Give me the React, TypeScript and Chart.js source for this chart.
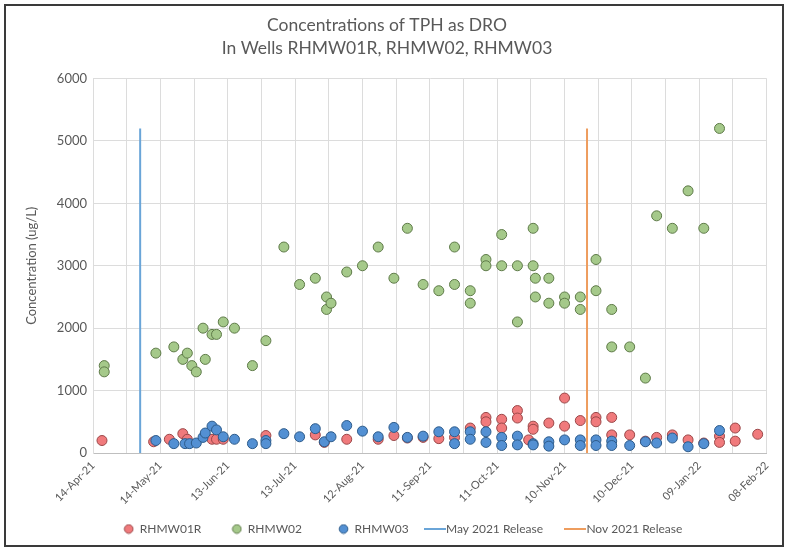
import React, { useEffect, useRef } from "react";
import { Chart, registerables } from "chart.js";

Chart.register(...registerables);

// ---- Data (dates, values) ----
const startDate = "2021-04-14";
const endDate = "2022-02-08";

const rhmw01rDates = [
  "2021-04-18", "2021-05-11", "2021-05-18", "2021-05-24", "2021-05-26", "2021-06-06", "2021-06-08",
  "2021-06-11", "2021-06-30", "2021-07-22", "2021-07-26", "2021-08-05", "2021-08-19", "2021-08-26",
  "2021-09-01", "2021-09-08", "2021-09-15", "2021-09-22", "2021-09-29", "2021-10-06", "2021-10-06",
  "2021-10-13", "2021-10-13", "2021-10-20", "2021-10-20", "2021-10-25", "2021-10-27", "2021-10-27",
  "2021-11-03", "2021-11-10", "2021-11-10", "2021-11-17", "2021-11-24", "2021-11-24", "2021-12-01",
  "2021-12-01", "2021-12-09", "2021-12-16", "2021-12-21", "2021-12-28", "2022-01-04", "2022-01-11",
  "2022-01-18", "2022-01-18", "2022-01-25", "2022-01-25", "2022-02-04",
];
const rhmw01rValues = [
  200, 180, 220, 310, 220, 220, 220,
  220, 280, 290, 170, 220, 220, 280,
  240, 250, 230, 250, 400, 570, 500,
  540, 400, 680, 560, 210, 430, 380,
  480, 880, 430, 520, 570, 500, 570,
  290, 290, 190, 250, 290, 210, 160,
  270, 170, 400, 190, 300,
];

const rhmw02Dates = [
  "2021-04-19", "2021-04-19", "2021-05-12", "2021-05-20", "2021-05-24", "2021-05-26", "2021-05-28",
  "2021-05-30", "2021-06-02", "2021-06-03", "2021-06-06", "2021-06-08", "2021-06-11", "2021-06-16",
  "2021-06-24", "2021-06-30", "2021-07-08", "2021-07-15", "2021-07-22", "2021-07-27", "2021-07-27",
  "2021-07-29", "2021-08-05", "2021-08-12", "2021-08-19", "2021-08-26", "2021-09-01", "2021-09-08",
  "2021-09-15", "2021-09-22", "2021-09-22", "2021-09-29", "2021-09-29", "2021-10-06", "2021-10-06",
  "2021-10-13", "2021-10-13", "2021-10-20", "2021-10-20", "2021-10-27", "2021-10-27", "2021-10-28",
  "2021-10-28", "2021-11-03", "2021-11-03", "2021-11-10", "2021-11-10", "2021-11-17", "2021-11-17",
  "2021-11-24", "2021-11-24", "2021-12-01", "2021-12-01", "2021-12-09", "2021-12-16", "2021-12-21",
  "2021-12-28", "2022-01-04", "2022-01-11", "2022-01-18",
];
const rhmw02Values = [
  1400, 1300, 1600, 1700, 1500, 1600, 1400,
  1300, 2000, 1500, 1900, 1900, 2100, 2000,
  1400, 1800, 3300, 2700, 2800, 2500, 2300,
  2400, 2900, 3000, 3300, 2800, 3600, 2700,
  2600, 3300, 2700, 2600, 2400, 3100, 3000,
  3500, 3000, 3000, 2100, 3600, 3000, 2800,
  2500, 2800, 2400, 2500, 2400, 2500, 2300,
  3100, 2600, 2300, 1700, 1700, 1200, 3800,
  3600, 4200, 3600, 5200,
];

const rhmw03Dates = [
  "2021-05-12", "2021-05-20", "2021-05-25", "2021-05-27", "2021-05-30", "2021-06-02", "2021-06-03",
  "2021-06-06", "2021-06-08", "2021-06-11", "2021-06-16", "2021-06-24", "2021-06-30", "2021-06-30",
  "2021-07-08", "2021-07-15", "2021-07-22", "2021-07-26", "2021-07-29", "2021-08-05", "2021-08-12",
  "2021-08-19", "2021-08-26", "2021-09-01", "2021-09-08", "2021-09-15", "2021-09-22", "2021-09-22",
  "2021-09-29", "2021-09-29", "2021-10-06", "2021-10-06", "2021-10-13", "2021-10-13", "2021-10-20",
  "2021-10-20", "2021-10-27", "2021-10-27", "2021-11-03", "2021-11-03", "2021-11-10", "2021-11-17",
  "2021-11-17", "2021-11-24", "2021-11-24", "2021-12-01", "2021-12-01", "2021-12-09", "2021-12-16",
  "2021-12-21", "2021-12-28", "2022-01-04", "2022-01-11", "2022-01-18",
];
const rhmw03Values = [
  200, 150, 150, 150, 160, 250, 320,
  430, 370, 260, 220, 150, 200, 150,
  310, 260, 390, 180, 260, 440, 350,
  260, 410, 250, 270, 340, 340, 150,
  340, 220, 340, 170, 250, 120, 270,
  130, 150, 130, 180, 110, 210, 210,
  120, 210, 120, 190, 120, 120, 180,
  160, 240, 100, 150, 360,
];

const releaseNames = ["May 2021 Release", "Nov 2021 Release"];
const releaseDates = ["2021-05-05", "2021-11-20"];
const releaseLineTop = 5200;

const yTicksMin = 0;
const yTicksMax = 6000;
const yTickStep = 1000;
const xGridStepDays = 15;
const xLabelStepDays = 30;

const titleLines = ["Concentrations of TPH as DRO", "In Wells RHMW01R, RHMW02, RHMW03"];
const yAxisTitle = "Concentration (ug/L)";
const monthNames = ["Jan", "Feb", "Mar", "Apr", "May", "Jun", "Jul", "Aug", "Sep", "Oct", "Nov", "Dec"];

// ---- helpers ----
const DAY = 86400000;
const epoch = Date.parse(startDate + "T00:00:00Z");
const toDay = (s: string) => Math.round((Date.parse(s + "T00:00:00Z") - epoch) / DAY);
const fmt = (d: number) => {
  const dt = new Date(epoch + d * DAY);
  return (
    String(dt.getUTCDate()).padStart(2, "0") +
    "-" +
    monthNames[dt.getUTCMonth()] +
    "-" +
    String(dt.getUTCFullYear()).slice(2)
  );
};
const pts = (dates: string[], vals: number[]) => dates.map((d, i) => ({ x: toDay(d), y: vals[i] }));

const FONT = "Lato, 'Open Sans', sans-serif";
const GRAY = "#595959";

const makeCircle = (fill: string, stroke: string) => {
  const c = document.createElement("canvas");
  c.width = 11;
  c.height = 11;
  const g = c.getContext("2d")!;
  g.beginPath();
  g.arc(5.5, 5.5, 4.3, 0, Math.PI * 2);
  g.fillStyle = fill;
  g.fill();
  g.lineWidth = 1;
  g.strokeStyle = stroke;
  g.stroke();
  return c;
};
const makeLine = (color: string) => {
  const c = document.createElement("canvas");
  c.width = 22;
  c.height = 2;
  const g = c.getContext("2d")!;
  g.fillStyle = color;
  g.fillRect(0, 0, 22, 2);
  return c;
};

// shifts the legend horizontally after layout
const legendShift = {
  id: "legendShift",
  afterLayout(chart: any) {
    const lg = chart.legend;
    if (lg) {
      lg.left += 16;
      lg.right += 16;
    }
  },
};

export default function App() {
  const ref = useRef<HTMLCanvasElement | null>(null);

  useEffect(() => {
    if (!ref.current) return;
    const pointBase = { pointRadius: 5, pointHoverRadius: 5, pointBorderWidth: 1, showLine: false };
    const series = [
      { label: "RHMW01R", fill: "#F07A7C", stroke: "#9A4748", dates: rhmw01rDates, vals: rhmw01rValues },
      { label: "RHMW02", fill: "#A5C98A", stroke: "#5E7A48", dates: rhmw02Dates, vals: rhmw02Values },
      { label: "RHMW03", fill: "#5390D3", stroke: "#2D5B8A", dates: rhmw03Dates, vals: rhmw03Values },
    ];
    const lineColors = ["#6AA5D8", "#EE9D5E"];
    const legendIcons = [
      ...series.map((s) => makeCircle(s.fill, s.stroke)),
      ...lineColors.map((c) => makeLine(c)),
    ];
    const legendSuffix = ["      ", "        ", "   ", "     ", ""];

    const chart = new Chart(ref.current, {
      type: "scatter",
      plugins: [legendShift],
      data: {
        datasets: [
          ...series.map((s, i) => ({
            ...pointBase,
            label: s.label,
            data: pts(s.dates, s.vals),
            backgroundColor: s.fill,
            borderColor: s.stroke,
            order: 2 - i,
          })),
          ...releaseDates.map((d, i) => ({
            label: releaseNames[i],
            data: [
              { x: toDay(d), y: 0 },
              { x: toDay(d), y: releaseLineTop },
            ],
            showLine: true,
            borderColor: lineColors[i],
            backgroundColor: lineColors[i],
            borderWidth: 2,
            pointRadius: 0,
            pointHoverRadius: 0,
            order: 5 + i,
          })),
        ],
      },
      options: {
        animation: false,
        responsive: false,
        maintainAspectRatio: false,
        layout: { padding: { left: 0, right: 14, top: 0, bottom: 0 } },
        plugins: {
          title: {
            display: true,
            text: titleLines,
            color: GRAY,
            font: { family: FONT, size: 17.5, weight: "normal", lineHeight: 1.3 },
            padding: { top: 8, bottom: 19 },
          },
          legend: {
            position: "bottom",
            labels: {
              usePointStyle: true,
              boxWidth: 10,
              boxHeight: 10,
              padding: 12,
              color: GRAY,
              font: { family: FONT, size: 12 },
              generateLabels: (ch: any) => {
                const items = (Chart.defaults.plugins.legend.labels as any).generateLabels(ch);
                return items
                  .sort((a: any, b: any) => a.datasetIndex - b.datasetIndex)
                  .map((it: any) => ({
                    ...it,
                    text: it.text + legendSuffix[it.datasetIndex],
                    pointStyle: legendIcons[it.datasetIndex],
                  }));
              },
            },
          },
          tooltip: { enabled: false },
        },
        scales: {
          x: {
            type: "linear",
            min: toDay(startDate),
            max: toDay(endDate),
            grid: { color: "#DCDCDC", drawTicks: false },
            border: { color: "#BFBFBF" },
            ticks: {
              stepSize: xGridStepDays,
              autoSkip: false,
              maxRotation: 45,
              minRotation: 45,
              padding: 6,
              color: GRAY,
              font: { family: FONT, size: 11 },
              callback: (v: any) => (Number(v) % xLabelStepDays === 0 ? fmt(Number(v)) : ""),
            },
            afterFit: (s: any) => {
              s.height = 58;
            },
          },
          y: {
            min: yTicksMin,
            max: yTicksMax,
            grid: { color: "#DCDCDC", drawTicks: false },
            border: { color: "#DCDCDC" },
            ticks: {
              stepSize: yTickStep,
              padding: 6,
              color: GRAY,
              font: { family: FONT, size: 13 },
              callback: (v: any) => String(v),
            },
            title: {
              display: true,
              text: yAxisTitle,
              color: GRAY,
              font: { family: FONT, size: 13 },
              padding: { top: 18, bottom: 0 },
            },
            afterFit: (s: any) => {
              s.width = 87;
            },
          },
        },
      },
    } as any);
    return () => chart.destroy();
  }, []);

  return (
    <div
      style={{
        position: "fixed",
        left: 4,
        top: 4,
        width: 780,
        height: 543,
        border: "2px solid #3a3a3a",
        boxSizing: "border-box",
        background: "#fff",
      }}
    >
      <canvas ref={ref} width={776} height={539} style={{ display: "block" }} />
    </div>
  );
}
